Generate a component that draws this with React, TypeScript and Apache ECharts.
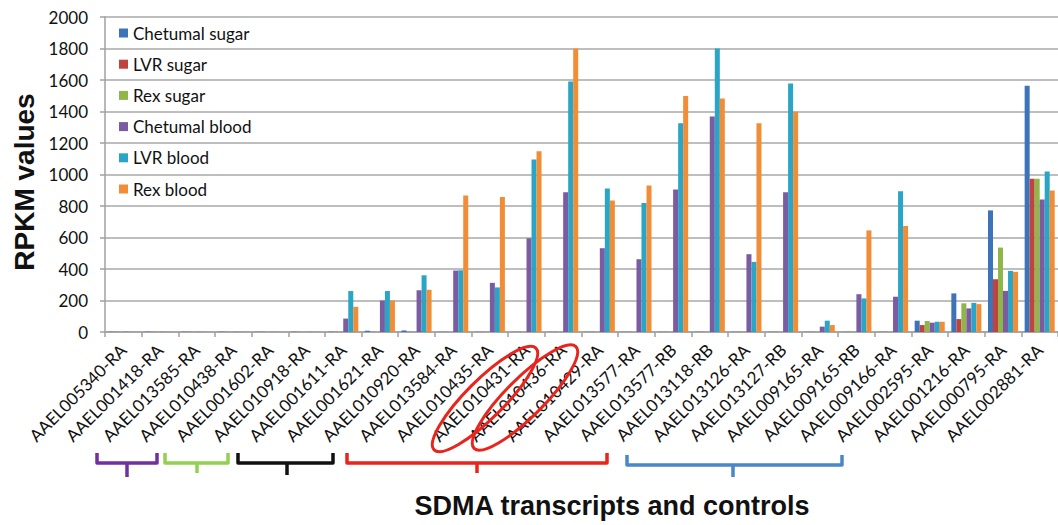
import React, { useEffect, useRef } from "react";
import * as echarts from "echarts";

const categories = [
  "AAEL005340-RA", "AAEL001418-RA", "AAEL013585-RA", "AAEL010438-RA", "AAEL001602-RA",
  "AAEL010918-RA", "AAEL001611-RA", "AAEL001621-RA", "AAEL010920-RA", "AAEL013584-RA",
  "AAEL010435-RA", "AAEL010431-RA", "AAEL010436-RA", "AAEL010429-RA", "AAEL013577-RA",
  "AAEL013577-RB", "AAEL013118-RB", "AAEL013126-RA", "AAEL013127-RB", "AAEL009165-RA",
  "AAEL009165-RB", "AAEL009166-RA", "AAEL002595-RA", "AAEL001216-RA", "AAEL000795-RA",
  "AAEL002881-RA",
];

const chetumalSugar = [2, 2, 2, 2, 2, 2, 2, 8, 10, 1, 1, 1, 1, 1, 1, 1, 1, 1, 1, 1, 1, 1, 72, 245, 772, 1563];
const lvrSugar = [1, 1, 1, 1, 1, 1, 1, 1, 1, 1, 1, 1, 1, 1, 1, 1, 1, 1, 1, 1, 1, 1, 44, 82, 335, 973];
const rexSugar = [1, 1, 1, 1, 1, 1, 1, 1, 1, 1, 1, 1, 1, 1, 1, 1, 1, 1, 1, 1, 1, 1, 70, 182, 536, 973];
const chetumalBlood = [1, 1, 1, 1, 1, 1, 85, 200, 265, 390, 312, 595, 888, 532, 462, 905, 1369, 494, 888, 34, 240, 224, 59, 150, 261, 842];
const lvrBlood = [1, 1, 1, 1, 1, 1, 260, 260, 360, 392, 283, 1095, 1591, 911, 819, 1325, 1800, 445, 1578, 72, 213, 893, 65, 185, 388, 1019];
const rexBlood = [1, 1, 1, 1, 1, 1, 160, 200, 268, 867, 857, 1148, 1800, 835, 930, 1498, 1483, 1325, 1399, 44, 645, 673, 65, 177, 382, 899];

const seriesNames = ["Chetumal sugar", "LVR sugar", "Rex sugar", "Chetumal blood", "LVR blood", "Rex blood"];
const seriesData = [chetumalSugar, lvrSugar, rexSugar, chetumalBlood, lvrBlood, rexBlood];
const seriesColors = ["#3d74b9", "#c0433f", "#90b548", "#7b5ba1", "#2aa5c5", "#f08d36"];

const yTicks = { min: 0, max: 2000, interval: 200 };

function bracket(x1: number, x2: number, top: number, hy: number, sx: number, sy: number, color: string) {
  return [
    {
      type: "polyline",
      shape: { points: [[x1, top], [x1, hy], [x2, hy], [x2, top]] },
      style: { stroke: color, fill: "none", lineWidth: 3.5, lineJoin: "round" },
      z: 10,
    },
    {
      type: "line",
      shape: { x1: sx, y1: hy, x2: sx, y2: sy },
      style: { stroke: color, lineWidth: 3.5 },
      z: 10,
    },
  ];
}

export default function App() {
  const ref = useRef<HTMLDivElement>(null);
  useEffect(() => {
    if (!ref.current) return;
    const chart = echarts.init(ref.current, undefined, { renderer: "svg" });
    const font = "Lato, 'Noto Sans', sans-serif";
    chart.setOption({
      animation: false,
      backgroundColor: "#ffffff",
      color: seriesColors,
      grid: { left: 105, right: -9, top: 17, bottom: 193, containLabel: false },
      legend: {
        orient: "vertical",
        left: 119,
        top: 24,
        padding: 0,
        itemWidth: 9,
        itemHeight: 9,
        itemGap: 13.2,
        icon: "rect",
        selectedMode: false,
        textStyle: { fontFamily: font, fontSize: 17, color: "#111", lineHeight: 18 },
        data: seriesNames,
      },
      xAxis: {
        type: "category",
        data: categories,
        axisLine: { show: true, lineStyle: { color: "#a0a0a0", width: 1.5 } },
        axisTick: { show: true, length: 5, lineStyle: { color: "#a0a0a0", width: 1.5 } },
        axisLabel: {
          interval: 0,
          rotate: 45,
          margin: 15,
          fontFamily: font,
          fontSize: 17,
          color: "#111",
        },
      },
      yAxis: {
        type: "value",
        min: yTicks.min,
        max: yTicks.max,
        interval: yTicks.interval,
        axisLine: { show: true, lineStyle: { color: "#a0a0a0", width: 1.5 } },
        axisTick: { show: true, length: 5, lineStyle: { color: "#a0a0a0", width: 1.5 } },
        axisLabel: {
          margin: 17,
          fontFamily: font,
          fontSize: 17,
          color: "#111",
          formatter: (v: number) => String(v),
        },
        splitLine: { show: true, lineStyle: { color: "#a8a8a8", width: 1.5 } },
      },
      series: seriesNames.map((name, i) => ({
        name,
        type: "bar",
        data: seriesData[i],
        barGap: "0%",
        barCategoryGap: "18%",
        itemStyle: { color: seriesColors[i] },
      })),
      graphic: [
        {
          type: "text",
          x: 24,
          y: 182,
          rotation: Math.PI / 2,
          style: {
            text: "RPKM values",
            fontFamily: "'Liberation Sans', Arial, sans-serif",
            fontWeight: "bold",
            fontSize: 28,
            fill: "#111",
            align: "center",
            verticalAlign: "middle",
          },
        },
        {
          type: "text",
          x: 612,
          y: 506,
          style: {
            text: "SDMA transcripts and controls",
            fontFamily: "'Liberation Sans', Arial, sans-serif",
            fontWeight: "bold",
            fontSize: 27,
            fill: "#111",
            align: "center",
            verticalAlign: "middle",
          },
        },
        ...bracket(97, 157, 453, 463, 127, 477, "#7030a0"),
        ...bracket(165, 228, 453, 463, 197, 473, "#92d050"),
        ...bracket(238, 333, 453, 463, 287, 475, "#111111"),
        ...bracket(347, 607, 453, 463, 477, 473, "#e8241c"),
        ...bracket(627, 842, 455, 465, 733, 477, "#4a87c8"),
        {
          type: "ellipse",
          x: 485,
          y: 399,
          rotation: Math.PI / 4,
          shape: { cx: 0, cy: 0, rx: 72, ry: 19 },
          style: { stroke: "#e8241c", fill: "none", lineWidth: 3 },
          z: 10,
        },
        {
          type: "ellipse",
          x: 525,
          y: 397.5,
          rotation: Math.PI / 4,
          shape: { cx: 0, cy: 0, rx: 72, ry: 19 },
          style: { stroke: "#e8241c", fill: "none", lineWidth: 3 },
          z: 10,
        },
      ],
    });
    return () => chart.dispose();
  }, []);
  return (
    <div
      ref={ref}
      style={{ position: "absolute", left: 0, top: 0, width: 1058, height: 525, background: "#fff" }}
    />
  );
}
